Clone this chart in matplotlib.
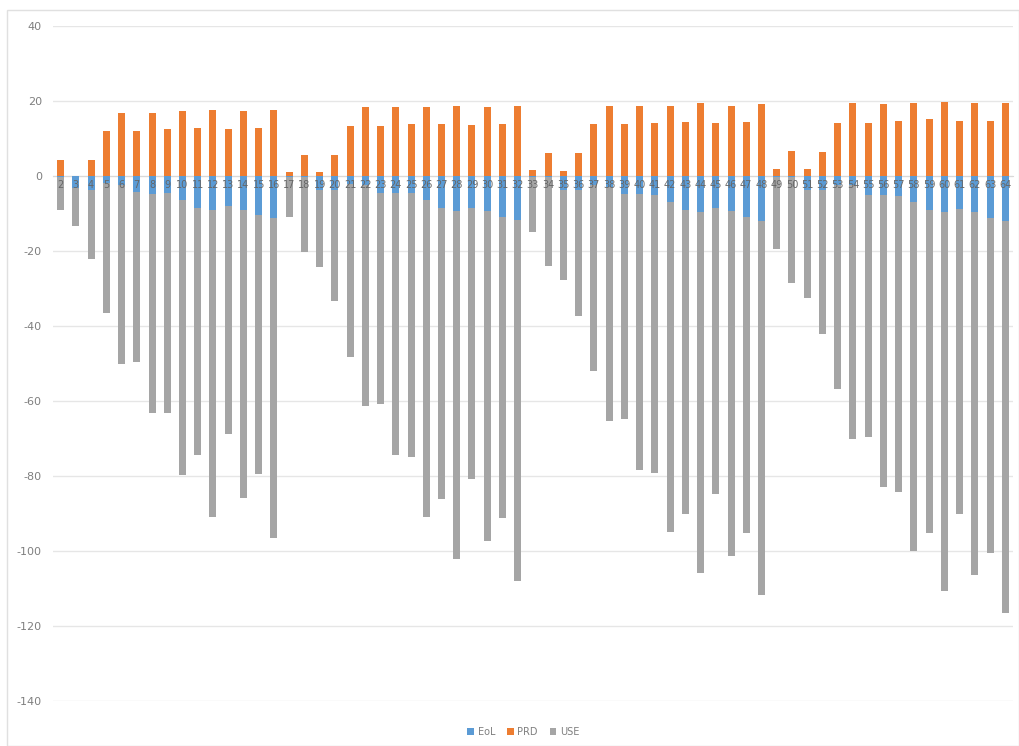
import matplotlib
matplotlib.use('Agg')
import matplotlib.pyplot as plt
from matplotlib.patches import Rectangle
import numpy as np

plt.rcParams['axes.unicode_minus'] = False

# category labels 2..64
labels = [str(i) for i in range(2, 65)]

prd = [4.3, 0.0, 4.3, 12.0, 16.9, 12.0, 16.9, 12.6, 17.4, 12.9, 17.6, 12.6, 17.3, 12.9, 17.5,
       1.1, 5.7, 1.1, 5.7, 13.3, 18.3, 13.3, 18.3, 13.9, 18.5, 14.0, 18.7, 13.6, 18.5, 14.0, 18.7,
       1.6, 6.2, 1.4, 6.2, 13.9, 18.7, 13.9, 18.7, 14.2, 18.8, 14.5, 19.4, 14.2, 18.8, 14.5, 19.1,
       2.0, 6.8, 2.0, 6.5, 14.2, 19.4, 14.2, 19.3, 14.8, 19.5, 15.1, 19.8, 14.7, 19.4, 14.8, 19.5]

eol = [-0.2, -3.2, -3.6, -1.9, -2.5, -4.3, -4.8, -4.5, -6.3, -8.4, -9.0, -8.1, -9.0, -10.5, -11.2,
       -0.2, -0.2, -3.6, -3.6, -2.1, -2.5, -4.5, -4.5, -4.5, -6.3, -8.5, -9.4, -8.4, -9.2, -10.8, -11.6,
       -0.2, -0.2, -3.6, -3.6, -2.3, -2.8, -4.8, -4.8, -5.0, -6.8, -9.0, -9.6, -8.5, -9.4, -11.0, -11.9,
       -0.2, -0.2, -3.6, -3.6, -2.3, -2.5, -5.0, -5.0, -5.4, -6.9, -9.0, -9.6, -8.7, -9.6, -11.2, -11.9]

# bottom of the grey bar (EoL + USE)
total_neg = [-9.1, -13.3, -22.2, -36.6, -50.1, -49.5, -63.3, -63.1, -79.8, -74.4, -91.0, -68.9, -85.8, -79.5, -96.6,
             -11.0, -20.3, -24.2, -33.3, -48.2, -61.2, -60.8, -74.4, -75.0, -90.8, -86.0, -102.2, -80.8, -97.3, -91.1, -107.9,
             -14.8, -23.9, -27.7, -37.3, -52.0, -65.3, -64.8, -78.4, -79.1, -94.8, -90.1, -105.9, -84.8, -101.3, -95.1, -111.7,
             -19.5, -28.6, -32.4, -42.0, -56.9, -70.1, -69.5, -83.0, -84.2, -99.9, -95.1, -110.7, -90.1, -106.4, -100.4, -116.6]

use = [t - e for t, e in zip(total_neg, eol)]

x = np.arange(len(labels))
w = 0.46

fig = plt.figure(figsize=(10.19, 7.46), dpi=100)
ax = fig.add_axes([0.052, 0.0603, 0.942, 0.9047])

ax.bar(x, eol, w, color='#5B9BD5', label='EoL', zorder=3)
ax.bar(x, prd, w, color='#ED7D31', label='PRD', zorder=3)
ax.bar(x, use, w, bottom=eol, color='#A5A5A5', label='USE', zorder=3)

ax.set_ylim(-140, 40)
ax.set_xlim(-0.5, len(labels) - 0.5)
ax.set_yticks(range(-140, 41, 20))
ax.yaxis.grid(True, color='#E6E6E6', linewidth=1, zorder=0)
ax.set_axisbelow(True)
for s in ['top', 'right', 'left']:
    ax.spines[s].set_visible(False)
ax.spines['bottom'].set_position(('data', 0))
ax.spines['bottom'].set_color('#D9D9D9')
ax.set_xticks(x)
ax.set_xticklabels(labels, fontsize=7, color='#666666')
ax.tick_params(axis='x', length=0, pad=3)
ax.tick_params(axis='y', length=0, labelsize=8, labelcolor='#7F7F7F', pad=8)
# category labels sit on top of the bars, like the original
ax.xaxis.set_zorder(4)
ax.spines['bottom'].set_zorder(2)

ax.legend(loc='upper center', bbox_to_anchor=(0.49, -0.025), ncol=3, frameon=False,
          fontsize=7, handlelength=0.7, handleheight=0.7, handletextpad=0.4,
          columnspacing=1.2, labelcolor='#7F7F7F')

fig.patches.append(Rectangle((0.007, 0.0), 0.993, 0.986, transform=fig.transFigure,
                             fill=False, edgecolor='#E0E0E0', linewidth=1))

fig.savefig('out.png', dpi=100)
